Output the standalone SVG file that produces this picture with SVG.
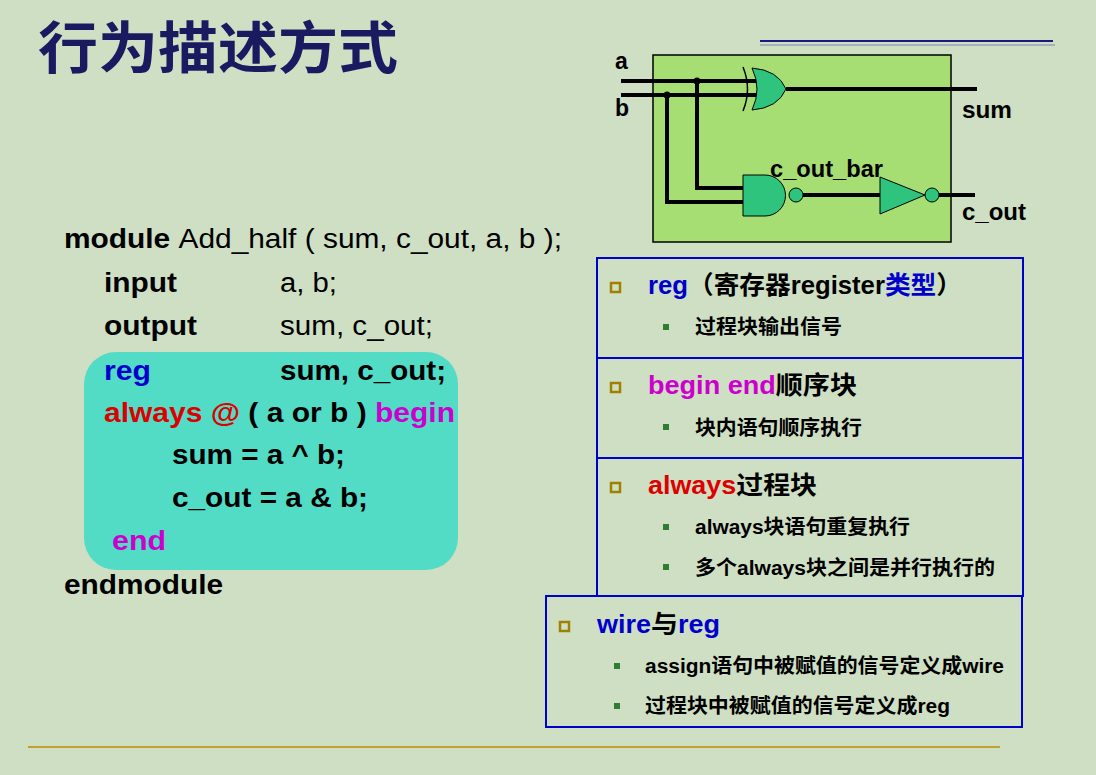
<svg xmlns="http://www.w3.org/2000/svg" width="1096" height="775" viewBox="0 0 1096 775">
<style>
text{font-family:"Liberation Sans","Noto Sans CJK SC",sans-serif;font-weight:bold;fill:#000}
.c{font-size:27px}.n{font-weight:normal}
.w{stroke:#000;stroke-width:4;fill:none}
.g{fill:#2ec47e;stroke:#000;stroke-width:1}
.bx{fill:none;stroke:#0000cc;stroke-width:2}
.h{font-size:25px}.s{font-size:20px}
.bl{fill:#0000cc}.mg{fill:#cc00cc}.rd{fill:#dd0000}
</style>
<rect width="1096" height="775" fill="#cfdfc4"/>
<text x="38" y="68" font-size="56" style="fill:#1a1a60" textLength="360" lengthAdjust="spacingAndGlyphs">行为描述方式</text>
<line x1="760" y1="41" x2="1053" y2="41" stroke="#1a1a80" stroke-width="2"/>
<line x1="760" y1="45" x2="1055" y2="45" stroke="#8080b0" stroke-width="1"/>
<line x1="28" y1="747" x2="1000" y2="747" stroke="#c0a030" stroke-width="2"/>
<g id="circuit">
<rect x="653" y="55" width="298" height="187" fill="#a6de74" stroke="#000" stroke-width="1.5"/>
<path class="w" d="M621 81H757M621 95H757M697 81V188H743M667 95V202H743M786 89H977M803 195H880M939 195H975"/>
<circle cx="697" cy="81" r="3.5"/><circle cx="667" cy="95" r="3.5"/>
<path d="M743 67Q752 89 743 111" fill="none" stroke="#000" stroke-width="1.5"/>
<path class="g" d="M752 68Q778 70 786 89Q778 108 752 110Q762 89 752 68Z"/>
<path class="g" d="M743 175H765A20.5 20.5 0 0 1 765 216H743Z"/>
<circle class="g" cx="796" cy="195" r="7"/>
<path class="g" d="M880 177L925 195L880 214Z"/>
<circle class="g" cx="932" cy="195" r="7"/>
<text x="615" y="69" font-size="23">a</text>
<text x="615" y="116" font-size="23">b</text>
<text x="962" y="118" font-size="23" textLength="50" lengthAdjust="spacingAndGlyphs">sum</text>
<text x="770" y="177" font-size="23" textLength="113" lengthAdjust="spacingAndGlyphs">c_out_bar</text>
<text x="962" y="220" font-size="23" textLength="64" lengthAdjust="spacingAndGlyphs">c_out</text>
</g>
<g id="code">
<rect x="84" y="352" width="374" height="218" rx="32" fill="#52dcc6"/>
<text class="c" x="64" y="248" textLength="498" lengthAdjust="spacingAndGlyphs">module <tspan class="n">Add_half ( sum, c_out, a, b );</tspan></text>
<text class="c" x="104" y="292" textLength="73" lengthAdjust="spacingAndGlyphs">input</text><text class="c n" x="280" y="292" textLength="57" lengthAdjust="spacingAndGlyphs">a, b;</text>
<text class="c" x="104" y="335" textLength="93" lengthAdjust="spacingAndGlyphs">output</text><text class="c n" x="280" y="335" textLength="153" lengthAdjust="spacingAndGlyphs">sum, c_out;</text>
<text class="c bl" x="104" y="380" textLength="47" lengthAdjust="spacingAndGlyphs">reg</text><text class="c" x="280" y="380" textLength="166" lengthAdjust="spacingAndGlyphs">sum, c_out;</text>
<text class="c" x="104" y="422" textLength="351" lengthAdjust="spacingAndGlyphs"><tspan class="rd">always @ </tspan>( a or b ) <tspan class="mg">begin</tspan></text>
<text class="c" x="172" y="464" textLength="173" lengthAdjust="spacingAndGlyphs">sum = a ^ b;</text>
<text class="c" x="172" y="507" textLength="196" lengthAdjust="spacingAndGlyphs">c_out = a &amp; b;</text>
<text class="c mg" x="112" y="550" textLength="54" lengthAdjust="spacingAndGlyphs">end</text>
<text class="c" x="64" y="594" textLength="159" lengthAdjust="spacingAndGlyphs">endmodule</text>
</g>
<g id="box1">
<rect class="bx" x="597" y="258" width="426" height="100"/>
<rect x="611" y="283" width="9" height="9" fill="none" stroke="#a08000" stroke-width="2.5"/>
<text class="h" x="648" y="294" textLength="314" lengthAdjust="spacingAndGlyphs"><tspan class="bl">reg</tspan>（寄存器register<tspan class="bl">类型</tspan>）</text>
<rect x="663" y="324" width="6" height="6" fill="#2e7d32"/>
<text class="s" x="695" y="334" textLength="147" lengthAdjust="spacingAndGlyphs">过程块输出信号</text>
</g>
<g id="box2">
<rect class="bx" x="597" y="358" width="426" height="100"/>
<rect x="611" y="383" width="9" height="9" fill="none" stroke="#a08000" stroke-width="2.5"/>
<text class="h" x="648" y="394" textLength="209" lengthAdjust="spacingAndGlyphs"><tspan class="mg">begin end</tspan>顺序块</text>
<rect x="663" y="424" width="6" height="6" fill="#2e7d32"/>
<text class="s" x="695" y="435" textLength="167" lengthAdjust="spacingAndGlyphs">块内语句顺序执行</text>
</g>
<g id="box3">
<rect class="bx" x="597" y="458" width="426" height="138"/>
<rect x="611" y="483" width="9" height="9" fill="none" stroke="#a08000" stroke-width="2.5"/>
<text class="h" x="648" y="494" textLength="169" lengthAdjust="spacingAndGlyphs"><tspan class="rd">always</tspan>过程块</text>
<rect x="663" y="524" width="6" height="6" fill="#2e7d32"/>
<text class="s" x="695" y="534" textLength="215" lengthAdjust="spacingAndGlyphs">always块语句重复执行</text>
<rect x="663" y="564" width="6" height="6" fill="#2e7d32"/>
<text class="s" x="695" y="575" textLength="300" lengthAdjust="spacingAndGlyphs">多个always块之间是并行执行的</text>
</g>
<g id="box4">
<rect class="bx" x="546" y="596" width="476" height="131"/>
<rect x="560" y="622" width="9" height="9" fill="none" stroke="#a08000" stroke-width="2.5"/>
<text class="h" x="597" y="633" textLength="123" lengthAdjust="spacingAndGlyphs"><tspan class="bl">wire</tspan>与<tspan class="bl">reg</tspan></text>
<rect x="614" y="663" width="6" height="6" fill="#2e7d32"/>
<text class="s" x="645" y="673" textLength="359" lengthAdjust="spacingAndGlyphs">assign语句中被赋值的信号定义成wire</text>
<rect x="614" y="703" width="6" height="6" fill="#2e7d32"/>
<text class="s" x="645" y="713" textLength="305" lengthAdjust="spacingAndGlyphs">过程块中被赋值的信号定义成reg</text>
</g>
</svg>
